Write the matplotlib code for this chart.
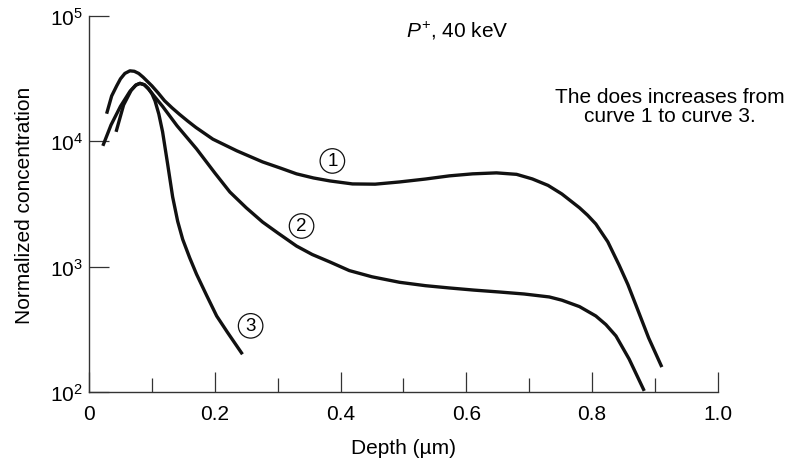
import matplotlib
matplotlib.use('Agg')
import matplotlib.pyplot as plt
import matplotlib.ticker as mticker

plt.rcParams['font.family'] = ['Liberation Sans', 'DejaVu Sans']
plt.rcParams['mathtext.fontset'] = 'custom'
plt.rcParams['mathtext.rm'] = 'Liberation Sans'
plt.rcParams['mathtext.it'] = 'Liberation Sans:italic'

# -- values (depth in um, normalized concentration)
depth_1 = [0.028, 0.036, 0.044, 0.05, 0.057, 0.065, 0.072, 0.079, 0.086, 0.093, 0.10, 0.11,
           0.12, 0.132, 0.144, 0.157, 0.17, 0.197, 0.235, 0.276, 0.305, 0.33, 0.357, 0.383,
           0.419, 0.455, 0.494, 0.535, 0.573, 0.61, 0.648, 0.68, 0.705, 0.73, 0.752, 0.78,
           0.793, 0.806, 0.825, 0.843, 0.857, 0.870, 0.890, 0.911]
conc_1 = [16600, 23000, 27700, 31500, 34800, 36500, 36200, 34800, 32500, 30000, 27700, 24300,
          21100, 18500, 16400, 14500, 12900, 10400, 8400, 6850, 6100, 5500, 5100, 4830,
          4570, 4550, 4740, 5000, 5300, 5500, 5600, 5450, 5010, 4450, 3800, 2950,
          2570, 2190, 1580, 1030, 720, 490, 270, 158]

depth_2 = [0.022, 0.035, 0.05, 0.065, 0.074, 0.081, 0.088, 0.095, 0.105, 0.117, 0.14, 0.171,
           0.2, 0.224, 0.25, 0.276, 0.30, 0.33, 0.355, 0.383, 0.414, 0.45, 0.494, 0.535,
           0.573, 0.612, 0.652, 0.692, 0.732, 0.752, 0.78, 0.806, 0.822, 0.838, 0.859, 0.883]
conc_2 = [9200, 13500, 19000, 25000, 28000, 29000, 28200, 26000, 22500, 19000, 13300, 8700,
          5600, 3940, 2950, 2270, 1860, 1460, 1250, 1090, 930, 830, 750, 705,
          676, 650, 628, 605, 573, 540, 480, 404, 345, 280, 183, 102]

depth_3 = [0.043, 0.055, 0.067, 0.075, 0.081, 0.088, 0.094, 0.10, 0.105, 0.111, 0.117, 0.125,
           0.133, 0.141, 0.149, 0.16, 0.171, 0.187, 0.203, 0.22, 0.244]
conc_3 = [11900, 19500, 25500, 28200, 29000, 28300, 26500, 24000, 21000, 16500, 11900, 6600,
          3600, 2300, 1650, 1180, 870, 590, 404, 300, 200]

curve_labels = ['1', '2', '3']
label_depth = [0.387, 0.338, 0.257]
label_conc = [6970, 2110, 337]

x_ticks = [0, 0.2, 0.4, 0.6, 0.8, 1.0]
x_tick_labels = ['0', '0.2', '0.4', '0.6', '0.8', '1.0']
x_minor = [0.1, 0.3, 0.5, 0.7, 0.9]

fig = plt.figure(figsize=(7.85, 4.6), dpi=100)
ax = fig.add_axes([0.1134, 0.1457, 0.801, 0.8174])

line_kw = dict(color='#111111', lw=2.4, solid_capstyle='butt', solid_joinstyle='round')
ax.plot(depth_1, conc_1, **line_kw)
ax.plot(depth_2, conc_2, **line_kw)
ax.plot(depth_3, conc_3, **line_kw)

for lab, xd, yd in zip(curve_labels, label_depth, label_conc):
    ax.text(xd, yd, lab, fontsize=13.5, ha='center', va='center',
            bbox=dict(boxstyle='circle,pad=0.2', fc='none', ec='#111111', lw=0.9))

ax.set_yscale('log')
ax.set_xlim(0, 1.0)
ax.set_ylim(1e2, 1e5)
ax.yaxis.set_major_locator(mticker.LogLocator(base=10, numticks=10))
ax.yaxis.set_minor_locator(mticker.NullLocator())
ax.set_xticks(x_ticks)
ax.set_xticklabels(x_tick_labels)
ax.set_xticks(x_minor, minor=True)

for s in ['top', 'right']:
    ax.spines[s].set_visible(False)
for s in ['left', 'bottom']:
    ax.spines[s].set_color('#333333')
    ax.spines[s].set_linewidth(1.0)

ax.tick_params(axis='both', which='major', direction='in', length=14.5, width=0.9,
               color='#333333', labelsize=15)
ax.tick_params(axis='x', which='minor', direction='in', length=10, width=0.9, color='#333333')
ax.tick_params(axis='x', which='major', pad=8.5)
ax.tick_params(axis='y', which='major', pad=4.5)

ax.set_xlabel('Depth (\u00b5m)', fontsize=15, labelpad=11)
ax.set_ylabel('Normalized concentration', fontsize=15, labelpad=11)

fig.text(457 / 785, 1 - 31 / 460, r'$\mathit{P}^{+}$, 40 keV', fontsize=15,
         ha='center', va='center')
fig.text(670 / 785, 1 - 107 / 460, 'The does increases from\ncurve 1 to curve 3.',
         fontsize=15, ha='center', va='center', linespacing=1.05)

fig.savefig('out.png', dpi=100)
plt.close(fig)
